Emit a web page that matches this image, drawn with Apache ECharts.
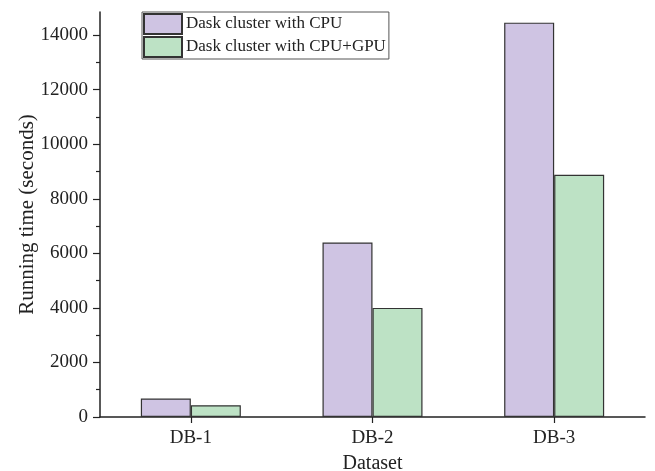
<!DOCTYPE html>
<html>
<head>
<meta charset="utf-8">
<script src="https://cdn.jsdelivr.net/npm/echarts@6/dist/echarts.min.js"></script>
<style>
  html, body { margin: 0; padding: 0; background: #fff; }
  #chart { width: 655px; height: 471px; }
</style>
</head>
<body>
<div id="chart"></div>
<script>
// Running time of each dataset on the two cluster configurations
const categories = ['DB-1', 'DB-2', 'DB-3'];
const cpuTimes = [680, 6400, 14460];
const gpuTimes = [430, 4000, 8880];
const seriesNames = ['Dask cluster with CPU', 'Dask cluster with CPU+GPU'];
const yTicks = [0, 2000, 4000, 6000, 8000, 10000, 12000, 14000];

const FONT = '"Liberation Serif", "Times New Roman", serif';
const INK = '#222';

const chart = echarts.init(document.getElementById('chart'), null, { renderer: 'canvas' });

chart.setOption({
  backgroundColor: '#fff',
  animation: false,
  textStyle: { fontFamily: FONT, color: INK },
  grid: { left: 100, right: 10, top: 12, bottom: 54, containLabel: false, outerBoundsMode: 'none' },
  legend: {
    orient: 'vertical',
    left: 142,
    top: 12,
    itemWidth: 38,
    itemHeight: 20,
    itemGap: 1,
    padding: [1, 3, 1, 1],
    borderColor: '#555',
    borderWidth: 1,
    backgroundColor: '#fff',
    icon: 'rect',
    textStyle: { fontFamily: FONT, fontSize: 17, color: INK, padding: [0, 0, 0, -1] },
    data: seriesNames
  },
  xAxis: {
    type: 'category',
    data: categories,
    boundaryGap: true,
    name: 'Dataset',
    nameLocation: 'middle',
    nameGap: 37,
    nameMoveOverlap: false,
    nameTextStyle: { fontFamily: FONT, fontSize: 20, color: INK },
    axisLine: { lineStyle: { color: INK, width: 1.5 } },
    axisTick: { show: true, alignWithLabel: true, length: 6, lineStyle: { color: INK, width: 1.2 } },
    axisLabel: { fontFamily: FONT, fontSize: 19, color: INK, margin: 12 },
    splitLine: { show: false }
  },
  yAxis: {
    type: 'value',
    min: 0,
    max: 14850,
    interval: 2000,
    name: 'Running time (seconds)',
    nameLocation: 'middle',
    nameGap: 62,
    nameMoveOverlap: false,
    nameTextStyle: { fontFamily: FONT, fontSize: 21, color: INK },
    axisLine: { show: true, lineStyle: { color: INK, width: 1.5 } },
    axisTick: { show: true, length: 7, customValues: yTicks, lineStyle: { color: INK, width: 1.2 } },
    minorTick: { show: true, splitNumber: 2, length: 4, lineStyle: { color: INK, width: 1.2 } },
    axisLabel: {
      fontFamily: FONT, fontSize: 19, color: INK, margin: 12, customValues: yTicks,
      formatter: (v) => String(v)
    },
    splitLine: { show: false },
    minorSplitLine: { show: false }
  },
  series: [
    {
      name: seriesNames[0],
      type: 'bar',
      data: cpuTimes,
      barWidth: 50,
      barGap: '0%',
      itemStyle: { color: '#cfc4e3', borderColor: '#333', borderWidth: 1.2 }
    },
    {
      name: seriesNames[1],
      type: 'bar',
      data: gpuTimes,
      barWidth: 50,
      barGap: '0%',
      itemStyle: { color: '#bde2c5', borderColor: '#333', borderWidth: 1.2 }
    }
  ]
});
</script>
</body>
</html>
